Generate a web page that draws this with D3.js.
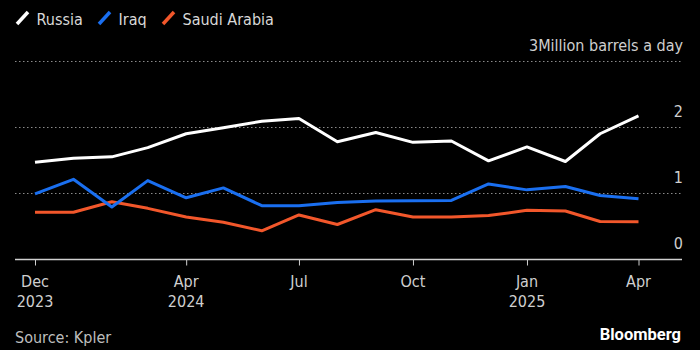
<!DOCTYPE html>
<html>
<head>
<meta charset="utf-8">
<script src="https://cdn.jsdelivr.net/npm/d3@7"></script>
<style>
  body { margin: 0; background: #000; }
  svg { display: block; }
  text { font-family: "DejaVu Sans Condensed", "DejaVu Sans", sans-serif; font-stretch: condensed; }
</style>
</head>
<body>
<div id="chart"></div>
<script>
// monthly points, Dec 2023 - Apr 2025
var months = ["2023-12", "2024-01", "2024-02", "2024-03", "2024-04", "2024-05", "2024-06", "2024-07",
  "2024-08", "2024-09", "2024-10", "2024-11", "2024-12", "2025-01", "2025-02", "2025-03", "2025-04"];
var russia = [1.46, 1.52, 1.54, 1.68, 1.89, 1.98, 2.08, 2.12, 1.77, 1.91, 1.76, 1.78, 1.48, 1.69, 1.47, 1.89, 2.16];
var iraq = [0.98, 1.20, 0.78, 1.18, 0.92, 1.07, 0.80, 0.80, 0.85, 0.87, 0.875, 0.88, 1.13, 1.04, 1.09, 0.955, 0.905];
var saudi = [0.70, 0.70, 0.86, 0.76, 0.63, 0.55, 0.42, 0.66, 0.515, 0.74, 0.63, 0.63, 0.65, 0.73, 0.72, 0.56, 0.555];
var seriesNames = ["Russia", "Iraq", "Saudi Arabia"];
var seriesColors = ["#ffffff", "#1a6ff0", "#f2572b"];
var yTicks = [0, 1, 2, 3];
var xTicks = ["2023-12", "2024-04", "2024-07", "2024-10", "2025-01", "2025-04"];
var yearTicks = ["2023-12", "2024-04", "2025-01"];

var width = 700, height = 350;
var parse = d3.timeParse("%Y-%m");
var dates = months.map(parse);

var svg = d3.select("#chart").append("svg")
  .attr("width", width)
  .attr("height", height);

var x = d3.scaleTime()
  .domain([dates[0], dates[dates.length - 1]])
  .range([35, 638.5]);

var y = d3.scaleLinear()
  .domain([0, 3])
  .range([258.5, 60.5]);

var gridLeft = 15, gridRight = 682;

// grid lines
svg.selectAll(".grid")
  .data(yTicks.filter(d => d > 0))
  .enter().append("line")
  .attr("x1", gridLeft)
  .attr("x2", gridRight)
  .attr("y1", d => Math.round(y(d)) + 0.5)
  .attr("y2", d => Math.round(y(d)) + 0.5)
  .style("stroke", "#8a8a8a")
  .style("stroke-width", 1)
  .style("stroke-dasharray", "1.5,2.5");

// y labels
svg.selectAll(".ylab")
  .data(yTicks)
  .enter().append("text")
  .attr("x", gridRight + 1)
  .attr("y", d => y(d) - 10)
  .attr("text-anchor", "end")
  .style("font-size", "16px")
  .style("fill", "#cfcfcf")
  .text(d => d === 3 ? "3Million barrels a day" : d);

// x axis
var xAxis = d3.axisBottom(x)
  .tickValues(xTicks.map(parse))
  .tickSize(6)
  .tickFormat("");

var ax = svg.append("g")
  .attr("transform", "translate(0," + (Math.round(y(0)) + 0.5) + ")")
  .call(xAxis);
ax.select(".domain").remove();
ax.selectAll("line").style("stroke", "#d0d0d0");
ax.insert("line", ":first-child")
  .attr("x1", gridLeft)
  .attr("x2", gridRight)
  .style("stroke", "#d0d0d0")
  .style("stroke-width", 1.5);

var xLabels = svg.selectAll(".xlab")
  .data(xTicks)
  .enter().append("text")
  .attr("x", d => x(parse(d)))
  .attr("y", 287)
  .attr("text-anchor", "middle")
  .style("font-size", "16px")
  .style("fill", "#cfcfcf");
xLabels.append("tspan")
  .attr("x", d => x(parse(d)))
  .text(d => d3.timeFormat("%b")(parse(d)));
xLabels.append("tspan")
  .attr("x", d => x(parse(d)))
  .attr("dy", 20)
  .text(d => yearTicks.indexOf(d) >= 0 ? parse(d).getFullYear() : "");

// lines
var line = d3.line()
  .x((d, i) => x(dates[i]))
  .y(d => y(d));

var allSeries = [russia, iraq, saudi];
svg.selectAll(".series")
  .data(allSeries.slice().reverse())
  .enter().append("path")
  .attr("d", d => line(d))
  .style("fill", "none")
  .style("stroke", (d, i) => seriesColors[seriesColors.length - 1 - i])
  .style("stroke-width", 3)
  .style("stroke-linejoin", "round");

// legend
var legendX = [16, 98, 162];
var legend = svg.selectAll(".legend")
  .data(seriesNames)
  .enter().append("g")
  .attr("transform", (d, i) => "translate(" + legendX[i] + ",0)");
legend.append("line")
  .attr("x1", 1).attr("y1", 24)
  .attr("x2", 12).attr("y2", 12)
  .style("stroke", (d, i) => seriesColors[i])
  .style("stroke-width", 3.5);
legend.append("text")
  .attr("x", 20.5)
  .attr("y", 24.5)
  .style("font-size", "16px")
  .style("fill", "#d8d8d8")
  .text(d => d);

// footer
svg.append("text")
  .attr("x", 15)
  .attr("y", 342.5)
  .style("font-size", "16px")
  .style("fill", "#bdbdbd")
  .text("Source: Kpler");

svg.append("text")
  .attr("x", 681)
  .attr("y", 340)
  .attr("text-anchor", "end")
  .style("font-family", "Roboto, 'Liberation Sans', sans-serif")
  .style("font-stretch", "normal")
  .style("font-weight", "bold")
  .style("font-size", "16.5px")
  .style("fill", "#ffffff")
  .text("Bloomberg");
</script>
</body>
</html>
